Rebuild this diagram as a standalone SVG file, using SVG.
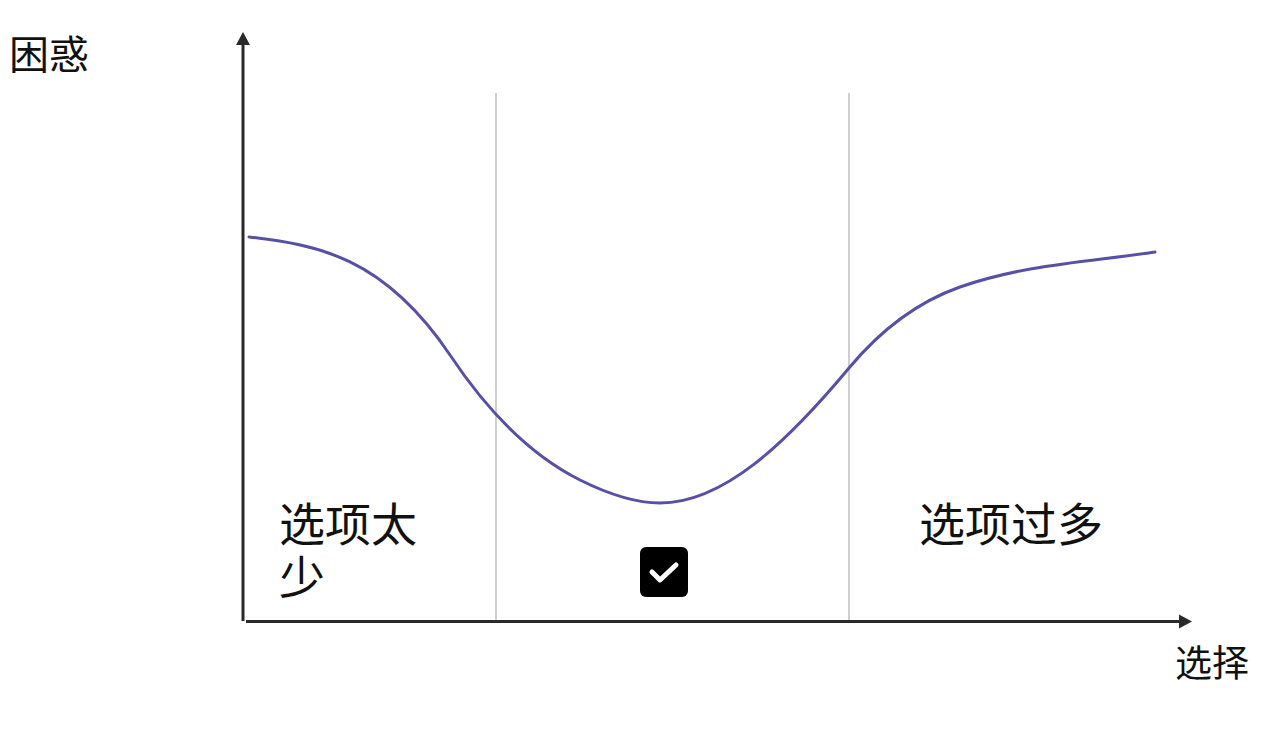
<svg xmlns="http://www.w3.org/2000/svg" width="1272" height="732" viewBox="0 0 1272 732">
<style>
.t{font-family:"Noto Sans CJK SC","Noto Sans",sans-serif;fill:#111}
.axis{stroke:#2a2a2a;stroke-width:3;fill:none}
.grid{stroke:#c4c4c4;stroke-width:1.6;fill:none}
.curve{stroke:#5650a6;stroke-width:3;fill:none;stroke-linecap:round}
</style>
<rect width="1272" height="732" fill="#fff"/>
<g id="grid">
<line class="grid" x1="496" y1="93" x2="496" y2="620"/>
<line class="grid" x1="849" y1="93" x2="849" y2="620"/>
</g>
<g id="axes">
<line class="axis" x1="243" y1="621" x2="243" y2="42"/>
<polygon points="243,32 236,45 250,45" fill="#2a2a2a"/>
<line class="axis" x1="246" y1="621.5" x2="1182" y2="621.5"/>
<polygon points="1192,621.5 1179,614.5 1179,628.5" fill="#2a2a2a"/>
</g>
<g id="curve">
<path class="curve" d="M249,237 C316,245 383,255.5 450,355 C493.3,420 536.7,458.3 580,480 C606.7,493.3 633.3,503 660,503 C723,503 786,443.6 849,368 C886,323.6 923,300 960,287 C1025,264.3 1090,261.75 1155,252"/>
</g>
<g id="check">
<rect x="640" y="547" width="48" height="50" rx="6" fill="#000"/>
<path d="M652,572 L660,580 L676,565" stroke="#fff" stroke-width="5" fill="none" stroke-linecap="round" stroke-linejoin="round"/>
</g>
<g id="labels">
<text class="t" x="9" y="69" font-size="40">困惑</text>
<text class="t" font-size="46"><tspan x="279" y="541">选项太</tspan><tspan x="279" y="594">少</tspan></text>
<text class="t" x="919" y="541" font-size="46">选项过多</text>
<text class="t" x="1175" y="677" font-size="37">选择</text>
</g>
</svg>
